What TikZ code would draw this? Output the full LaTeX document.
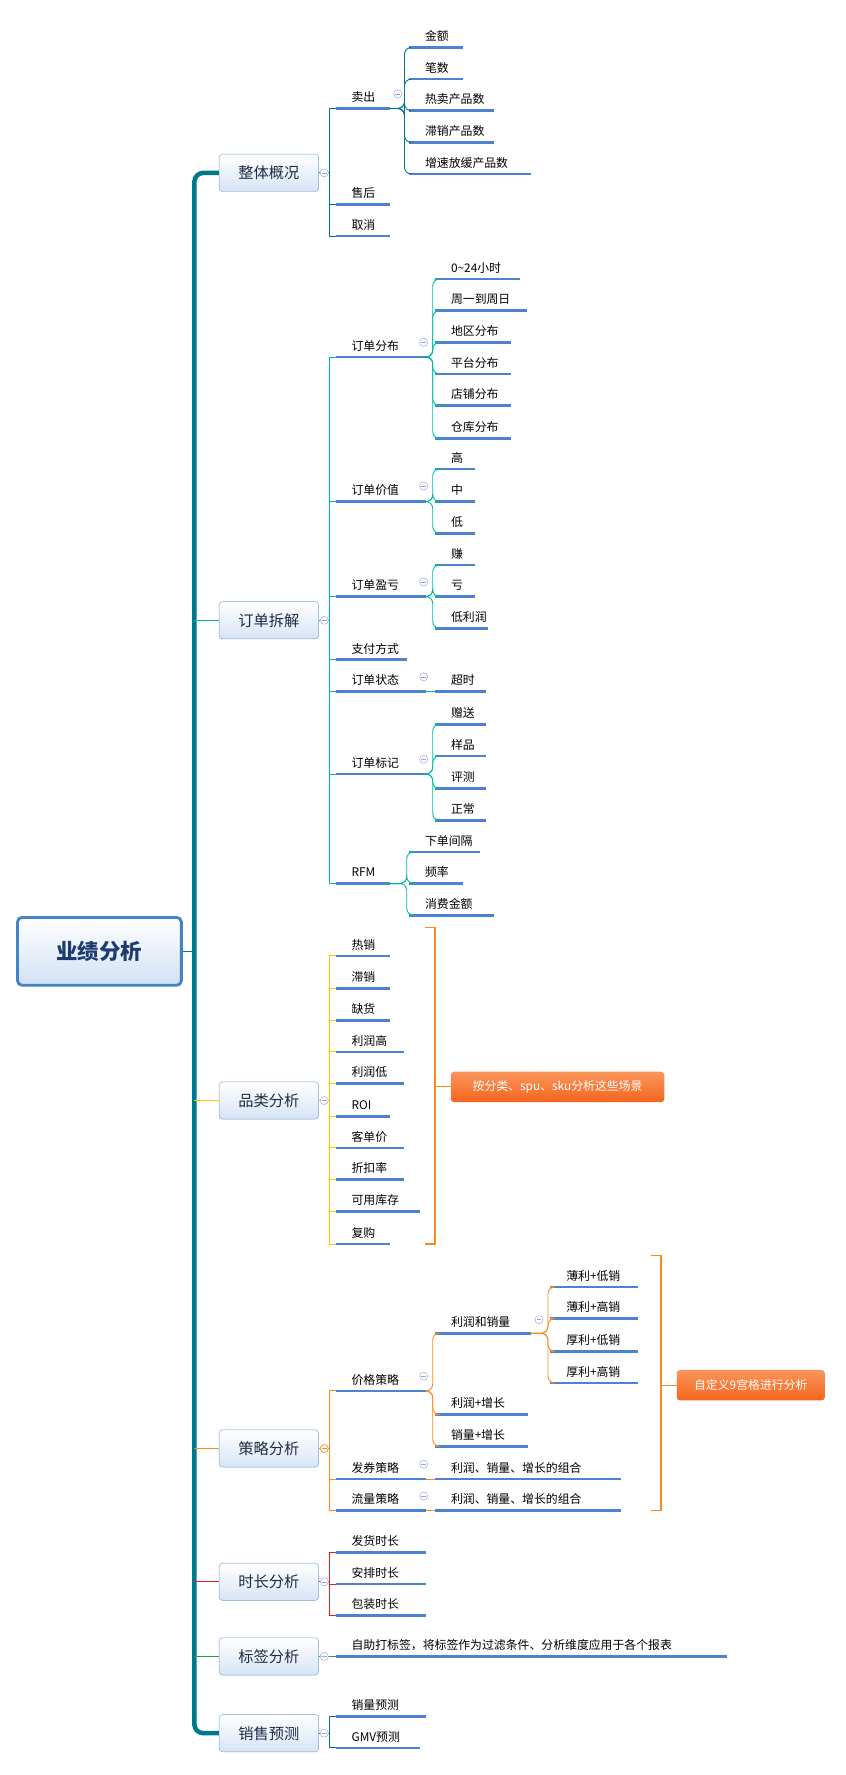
\documentclass[tikz,border=0pt]{standalone}
\usepackage{fontspec}
\setmainfont{Noto Sans CJK SC}
\begin{document}
\begin{tikzpicture}[x=1pt,y=-1pt]
\definecolor{ulc}{RGB}{75,130,210}
\definecolor{ca}{RGB}{0,120,140}
\definecolor{cb}{RGB}{0,185,165}
\definecolor{cc}{RGB}{245,200,0}
\definecolor{cd}{RGB}{245,140,30}
\definecolor{ce}{RGB}{230,30,30}
\definecolor{cf}{RGB}{40,160,70}
\definecolor{bdr}{RGB}{120,160,210}
\definecolor{txt}{RGB}{30,45,70}
\definecolor{colc}{RGB}{150,165,215}
\definecolor{mbot}{RGB}{215,228,245}
\definecolor{rbdr}{RGB}{70,130,200}
\definecolor{rbot}{RGB}{210,225,245}
\definecolor{rtxt}{RGB}{30,60,110}
\definecolor{ltop}{RGB}{250,150,90}
\definecolor{lbot}{RGB}{245,100,30}
\tikzset{
 ul/.style={ulc,line width=2.4pt},
 lt/.style={font=\fontsize{10.5}{11}\selectfont,inner sep=0pt},
 main/.style={draw=bdr,rounded corners=3pt,top color=white,bottom color=mbot,minimum width=88pt,minimum height=33pt,font=\fontsize{13.5}{14}\selectfont,text=txt},
 col/.style={draw=colc,fill=white,line width=0.4pt},
 lab/.style={rounded corners=3pt,top color=ltop,bottom color=lbot,text=white,font=\fontsize{10.5}{11}\selectfont,inner sep=0pt,minimum height=27pt},
 br/.style={line width=0.8pt}
}
\newcommand\lf[5]{\draw[ul] (#2,#4) coordinate(#1) -- (#3,#4);\node[lt,anchor=base west] at (#2+14,#4-6) {#5};}
\newcommand\cl[2]{\draw[col] (#1,#2) circle (3.6pt); \draw[colc,line width=0.4pt] (#1-2,#2)--(#1+2,#2);}
\useasboundingbox (0,0) rectangle (748,1571);
% root
\node[draw=rbdr,line width=2.5pt,rounded corners=4pt,top color=white,bottom color=rbot,minimum width=145pt,minimum height=60pt,font=\fontsize{19}{20}\selectfont\bfseries,text=rtxt] (root) at (88,842) {业绩分析};
% main nodes
\node[main] (m1) at (238,153) {整体概况};
\node[main] (m2) at (238,549) {订单拆解};
\node[main] (m3) at (238,974) {品类分析};
\node[main] (m4) at (238,1282) {策略分析};
\node[main] (m5) at (238,1400) {时长分析};
\node[main] (m6) at (238,1466) {标签分析};
\node[main] (m7) at (238,1534) {销售预测};
\draw[ca,line width=4pt,rounded corners=8pt] (m1.west) -- (172,153) -- (172,1534) -- (m7.west);
\draw[ca,line width=1.2pt] (root.east) -- (172,842);
\draw[cb,line width=1.2pt] (172,549) -- (m2.west);
\draw[cc,line width=1.2pt] (172,974) -- (m3.west);
\draw[cd,line width=1.2pt] (172,1282) -- (m4.west);
\draw[ce,line width=1.2pt] (172,1400) -- (m5.west);
\draw[cf,line width=1.2pt] (172,1466) -- (m6.west);
% ===== 1
\lf{a1}{297}{345}{96}{卖出}
\lf{a2}{297}{345}{181}{售后}
\lf{a3}{297}{345}{209}{取消}
\foreach \c in {a1,a2,a3}{\draw[ca,br] (m1.east) -- (292,153) |- (\c);}
\lf{a11}{362}{410}{42}{金额}
\lf{a12}{362}{410}{70}{笔数}
\lf{a13}{362}{437}{98}{热卖产品数}
\lf{a14}{362}{437}{126}{滞销产品数}
\lf{a15}{362}{470}{154}{增速放缓产品数}
\foreach \c in {a11,a12,a13,a14,a15}{\draw[ca,br,rounded corners=6pt] (345,96) -- (358,96) |- (\c);}
\cl{352}{83}\cl{287}{153}
% ===== 2
\lf{b1}{297}{377}{316}{订单分布}
\lf{b2}{297}{377}{444}{订单价值}
\lf{b3}{297}{377}{528}{订单盈亏}
\lf{b4}{297}{360}{584}{支付方式}
\lf{b5}{297}{377}{612}{订单状态}
\lf{b6}{297}{377}{685}{订单标记}
\lf{b7}{297}{345}{782}{RFM}
\foreach \c in {b1,b2,b3,b4,b5,b6,b7}{\draw[cb,br] (m2.east) -- (292,549) |- (\c);}
\lf{b11}{385}{460}{247}{0\textasciitilde 24小时}
\lf{b12}{385}{466}{275}{周一到周日}
\lf{b13}{385}{452}{303}{地区分布}
\lf{b14}{385}{452}{331}{平台分布}
\lf{b15}{385}{452}{359}{店铺分布}
\lf{b16}{385}{452}{388}{仓库分布}
\foreach \c in {b11,b12,b13,b14,b15,b16}{\draw[cb,br,rounded corners=6pt] (377,316) -- (383,316) |- (\c);}
\lf{b21}{385}{420}{415}{高}
\lf{b22}{385}{420}{444}{中}
\lf{b23}{385}{420}{472}{低}
\foreach \c in {b21,b22,b23}{\draw[cb,br,rounded corners=6pt] (377,444) -- (383,444) |- (\c);}
\lf{b31}{385}{420}{500}{赚}
\lf{b32}{385}{420}{528}{亏}
\lf{b33}{385}{432}{556}{低利润}
\foreach \c in {b31,b32,b33}{\draw[cb,br,rounded corners=6pt] (377,528) -- (383,528) |- (\c);}
\draw[ul] (385,612) coordinate(b51) -- (430,612); \node[lt,anchor=base west] at (399,606) {超时};
\draw[cb,br] (377,612) -- (b51);
\lf{b61}{385}{430}{641}{赠送}
\lf{b62}{385}{430}{669}{样品}
\lf{b63}{385}{430}{698}{评测}
\lf{b64}{385}{430}{726}{正常}
\foreach \c in {b61,b62,b63,b64}{\draw[cb,br,rounded corners=6pt] (377,685) -- (383,685) |- (\c);}
\lf{b71}{362}{425}{754}{下单间隔}
\lf{b72}{362}{410}{782}{频率}
\lf{b73}{362}{437}{810}{消费金额}
\foreach \c in {b71,b72,b73}{\draw[cb,br,rounded corners=6pt] (345,782) -- (360,782) |- (\c);}
\cl{375}{303}\cl{375}{430}\cl{375}{515}\cl{375}{599}\cl{375}{672}\cl{287}{549}
% ===== 3
\lf{c1}{297}{345}{846}{热销}
\lf{c2}{297}{345}{875}{滞销}
\lf{c3}{297}{345}{903}{缺货}
\lf{c4}{297}{358}{931}{利润高}
\lf{c5}{297}{358}{959}{利润低}
\lf{c6}{297}{345}{988}{ROI}
\lf{c7}{297}{358}{1016}{客单价}
\lf{c8}{297}{358}{1044}{折扣率}
\lf{c9}{297}{372}{1072}{可用库存}
\lf{c10}{297}{345}{1101}{复购}
\foreach \c in {c1,c2,c3,c4,c5,c6,c7,c8,c9,c10}{\draw[cc,br] (m3.east) -- (292,974) |- (\c);}
\cl{287}{974}
\draw[cd,line width=1pt] (376,821) -- (385,821) -- (385,1101) -- (376,1101);
\draw[cd,line width=1pt] (385,962) -- (399,962);
\node[lab,minimum width=189pt] (l1) at (493.5,962) {按分类、spu、sku分析这些场景};
% ===== 4
\lf{d1}{297}{377}{1231}{价格策略}
\lf{d2}{297}{377}{1309}{发券策略}
\lf{d3}{297}{377}{1337}{流量策略}
\foreach \c in {d1,d2,d3}{\draw[cd,br] (m4.east) -- (292,1282) |- (\c);}
\lf{d11}{385}{470}{1180}{利润和销量}
\lf{d12}{385}{467}{1252}{利润+增长}
\lf{d13}{385}{467}{1280}{销量+增长}
\foreach \c in {d11,d12,d13}{\draw[cd,br,rounded corners=6pt] (377,1231) -- (383,1231) |- (\c);}
\lf{d111}{487}{565}{1139}{薄利+低销}
\lf{d112}{487}{565}{1167}{薄利+高销}
\lf{d113}{487}{565}{1196}{厚利+低销}
\lf{d114}{487}{565}{1224}{厚利+高销}
\foreach \c in {d111,d112,d113,d114}{\draw[cd,br,rounded corners=6pt] (470,1180) -- (485,1180) |- (\c);}
\lf{d21}{385}{550}{1309}{利润、销量、增长的组合}
\lf{d31}{385}{550}{1337}{利润、销量、增长的组合}
\draw[cd,br] (377,1309) -- (d21);
\draw[cd,br] (377,1337) -- (d31);
\cl{375}{1218}\cl{477}{1168}\cl{375}{1296}\cl{375}{1324}
\draw[cd,line width=0.6pt,fill=white] (287,1282) circle (3.6pt); \draw[cd,line width=0.4pt] (285,1282)--(289,1282);
\draw[cd,line width=1pt] (576,1111) -- (585,1111) -- (585,1337) -- (576,1337);
\draw[cd,line width=1pt] (585,1226) -- (599,1226);
\node[lab,minimum width=131pt] (l2) at (664.5,1226) {自定义9宫格进行分析};
% ===== 5
\lf{e1}{297}{377}{1374}{发货时长}
\lf{e2}{297}{377}{1402}{安排时长}
\lf{e3}{297}{377}{1430}{包装时长}
\foreach \c in {e1,e2,e3}{\draw[ce,br] (m5.east) -- (292,1400) |- (\c);}
\cl{287}{1400}
% ===== 6
\lf{f1}{297}{643}{1466}{自助打标签，将标签作为过滤条件、分析维度应用于各个报表}
\draw[cf,br] (m6.east) -- (f1);
\cl{287}{1466}
% ===== 7
\lf{g1}{297}{377}{1519}{销量预测}
\lf{g2}{297}{372}{1547}{GMV预测}
\foreach \c in {g1,g2}{\draw[ca,br] (m7.east) -- (292,1534) |- (\c);}
\cl{287}{1534}
\end{tikzpicture}
\end{document}
